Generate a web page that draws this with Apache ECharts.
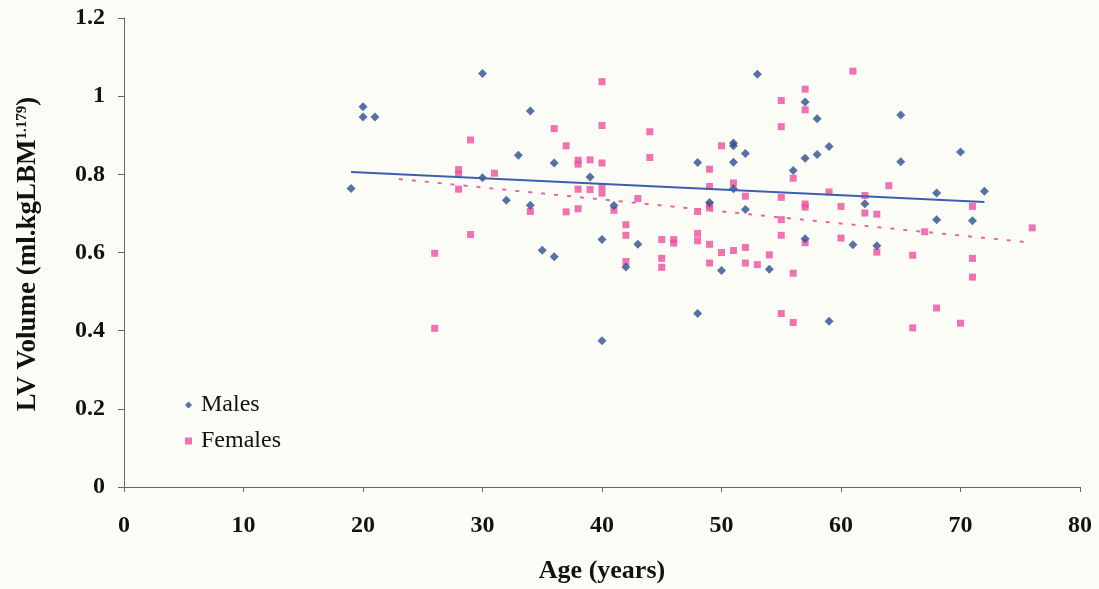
<!DOCTYPE html>
<html>
<head>
<meta charset="utf-8">
<script src="https://cdn.jsdelivr.net/npm/echarts@6/dist/echarts.min.js"></script>
<style>
html,body{margin:0;padding:0;background:#fcfcf7;}
#chart{width:1099px;height:589px;}
</style>
</head>
<body>
<div id="chart"></div>
<script>
const xTicks = [0,10,20,30,40,50,60,70,80];
const yTicks = [0,0.2,0.4,0.6,0.8,1,1.2];
const males = [[19,0.764],[20,0.973],[20,0.947],[21,0.947],[30,1.058],[30,0.791],[33,0.849],[32,0.734],[34,0.962],[34,0.721],[35,0.606],[36,0.829],[36,0.589],[39,0.793],[40,0.633],[40,0.374],[41,0.720],[42,0.563],[43,0.621],[48,0.830],[48,0.444],[49,0.728],[50,0.554],[51,0.880],[51,0.873],[51,0.831],[51,0.763],[52,0.853],[52,0.710],[53,1.056],[54,0.557],[56,0.810],[57,0.985],[57,0.841],[57,0.635],[58,0.942],[58,0.851],[59,0.871],[59,0.424],[61,0.620],[62,0.725],[63,0.617],[65,0.952],[65,0.832],[68,0.752],[68,0.684],[70,0.857],[71,0.681],[72,0.757]];
const females = [[26,0.598],[26,0.406],[28,0.812],[28,0.800],[28,0.762],[29,0.888],[29,0.646],[31,0.803],[34,0.705],[36,0.917],[37,0.873],[37,0.704],[38,0.836],[38,0.826],[38,0.762],[38,0.712],[39,0.837],[39,0.761],[40,1.037],[40,0.925],[40,0.829],[40,0.769],[40,0.752],[41,0.708],[42,0.671],[42,0.644],[42,0.577],[43,0.738],[44,0.909],[44,0.843],[45,0.633],[45,0.585],[45,0.562],[46,0.633],[46,0.624],[48,0.705],[48,0.649],[48,0.630],[49,0.813],[49,0.769],[49,0.721],[49,0.714],[49,0.621],[49,0.573],[50,0.873],[50,0.600],[51,0.778],[51,0.605],[52,0.744],[52,0.613],[52,0.573],[53,0.569],[54,0.594],[55,0.989],[55,0.922],[55,0.741],[55,0.684],[55,0.644],[55,0.444],[56,0.790],[56,0.547],[56,0.421],[57,1.018],[57,0.965],[57,0.724],[57,0.716],[57,0.625],[59,0.755],[60,0.718],[60,0.637],[61,1.064],[62,0.746],[62,0.701],[63,0.698],[63,0.601],[64,0.771],[66,0.593],[66,0.407],[67,0.653],[68,0.458],[70,0.419],[71,0.718],[71,0.585],[71,0.537],[76,0.663]];
const maleTrend = [[19,0.806],[72,0.729]];
const femaleTrend = [[23,0.788],[76,0.625]];

const FONT = '"Liberation Serif","Times New Roman",serif';
const chart = echarts.init(document.getElementById('chart'));
chart.setOption({
  backgroundColor: '#fcfcf7',
  animation: false,
  grid: {left: 124, right: 19, top: 18, bottom: 100},
  legend: {
    data: ['Males','Females'],
    orient: 'vertical',
    left: 180, top: 388,
    itemWidth: 7, itemHeight: 7, itemGap: 12,
    textStyle: {fontFamily: FONT, fontSize: 24, color: '#111', padding: [0,0,0,4]}
  },
  xAxis: {
    type: 'value', min: 0, max: 80, interval: 10,
    name: 'Age (years)', nameLocation: 'middle', nameGap: 71,
    nameTextStyle: {fontFamily: FONT, fontSize: 26, fontWeight: 'bold', color: '#111'},
    axisLine: {show: true, lineStyle: {color: '#666', width: 1}},
    axisTick: {show: true, inside: false, length: 5, lineStyle: {color: '#666'}},
    axisLabel: {fontFamily: FONT, fontSize: 24, fontWeight: 'bold', color: '#111', margin: 27,
      formatter: v => xTicks.includes(v) ? String(v) : ''},
    splitLine: {show: false}
  },
  yAxis: {
    type: 'value', min: 0, max: 1.2, interval: 0.2,
    axisLine: {show: true, lineStyle: {color: '#666', width: 1}},
    axisTick: {show: true, inside: false, length: 6, lineStyle: {color: '#666'}},
    axisLabel: {fontFamily: FONT, fontSize: 24, fontWeight: 'bold', color: '#111', margin: 19,
      formatter: v => { const t = yTicks.find(y => Math.abs(y - v) < 1e-9); return t === undefined ? '' : String(t); }},
    splitLine: {show: false}
  },
  graphic: [{
    type: 'text',
    x: 28, y: 254,
    rotation: Math.PI / 2,
    style: {
      text: 'LV Volume (ml.kgLBM{sup|1.179})',
      fontFamily: FONT, fontSize: 27, fontWeight: 'bold', fill: '#111',
      align: 'center', verticalAlign: 'middle',
      rich: {sup: {fontFamily: FONT, fontSize: 15, fontWeight: 'bold', fill: '#111', verticalAlign: 'top', padding: [0,0,12,0]}}
    }
  }],
  series: [
    {name: 'Males', type: 'scatter', symbol: 'diamond', symbolSize: 9, data: males,
      itemStyle: {color: '#2c4f8e'}, z: 3},
    {name: 'Females', type: 'scatter', symbol: 'rect', symbolSize: 7, data: females,
      itemStyle: {color: '#ec4f9e'}, z: 2},
    {name: 'Male trend', type: 'line', data: maleTrend, symbol: 'none',
      lineStyle: {color: '#3b5fae', width: 2, type: 'solid'}, z: 4},
    {name: 'Female trend', type: 'line', data: femaleTrend, symbol: 'none',
      lineStyle: {color: '#e8659f', width: 2, type: [4,9]}, z: 4}
  ]
});
</script>
</body>
</html>
